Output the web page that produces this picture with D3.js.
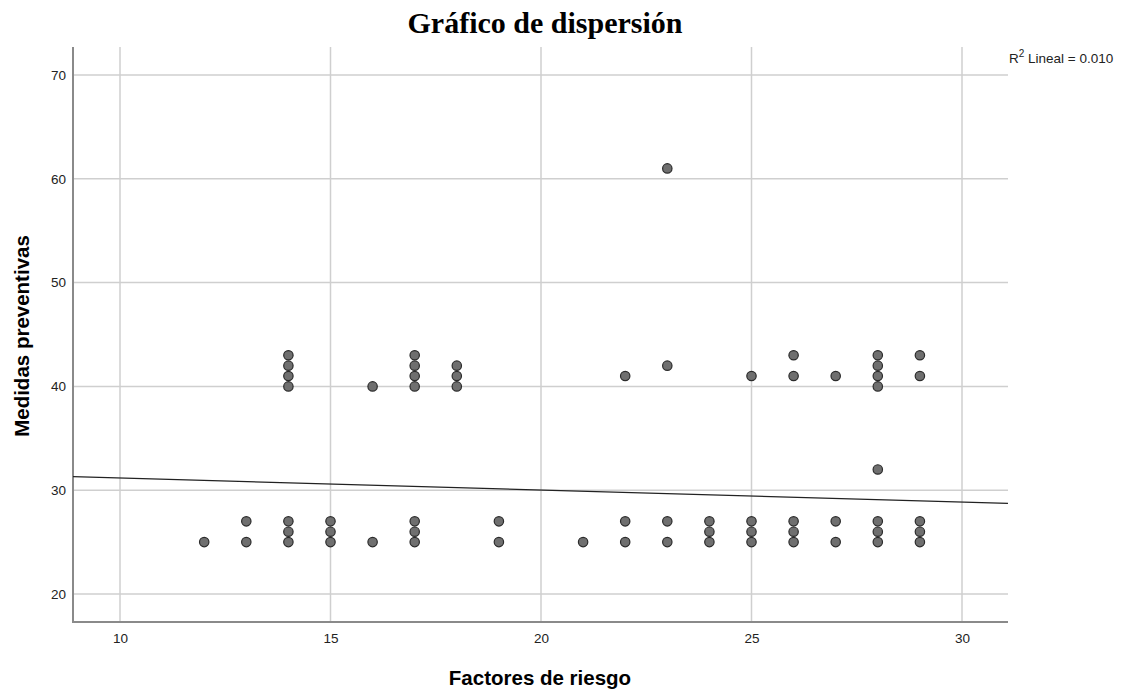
<!DOCTYPE html>
<html lang="es">
<head>
<meta charset="utf-8">
<title>Gráfico de dispersión</title>
<script src="https://cdn.jsdelivr.net/npm/d3@7"></script>
<style>
  html, body { margin: 0; padding: 0; background: #fff; }
  svg { display: block; font-family: "Liberation Sans", Arial, sans-serif; }
  .grid line { stroke: #cfcfcf; stroke-width: 1.5; }
  .axis text { font-size: 13.5px; fill: #222; }
  .axis path, .axis line { display: none; }
</style>
</head>
<body>
<script>
// Factores de riesgo (x) y Medidas preventivas (y)
const factores = [
  12,
  13, 13,
  14, 14, 14, 14, 14, 14, 14,
  15, 15, 15,
  16, 16,
  17, 17, 17, 17, 17, 17, 17,
  18, 18, 18,
  19, 19,
  21,
  22, 22, 22,
  23, 23, 23, 23,
  24, 24, 24,
  25, 25, 25, 25,
  26, 26, 26, 26, 26,
  27, 27, 27,
  28, 28, 28, 28, 28, 28, 28, 28,
  29, 29, 29, 29, 29
];
const medidas = [
  25,
  25, 27,
  25, 26, 27, 40, 41, 42, 43,
  25, 26, 27,
  25, 40,
  25, 26, 27, 40, 41, 42, 43,
  40, 41, 42,
  25, 27,
  25,
  25, 27, 41,
  25, 27, 42, 61,
  25, 26, 27,
  25, 26, 27, 41,
  25, 26, 27, 41, 43,
  25, 27, 41,
  25, 26, 27, 32, 40, 41, 42, 43,
  25, 26, 27, 41, 43
];
const xTicks = [10, 15, 20, 25, 30];
const yTicks = [20, 30, 40, 50, 60, 70];
// recta de ajuste lineal
const fitIntercept = 32.34;
const fitSlope = -0.116;
const r2Label = "0.010";

const w = 1131, h = 696;
const plotLeft = 73, plotRight = 1008, plotTop = 47, plotBottom = 622;

const svg = d3.select("body").append("svg")
  .attr("width", w)
  .attr("height", h);

const xScale = d3.scaleLinear().domain([10, 30]).range([120, 962]);
const yScale = d3.scaleLinear().domain([20, 70]).range([594, 75]);
const xMin = xScale.invert(plotLeft), xMax = xScale.invert(plotRight);

// rejilla
svg.append("g").attr("class", "grid")
  .selectAll("line").data(xTicks).enter().append("line")
  .attr("x1", d => xScale(d)).attr("x2", d => xScale(d))
  .attr("y1", plotTop).attr("y2", plotBottom);
svg.append("g").attr("class", "grid")
  .selectAll("line").data(yTicks).enter().append("line")
  .attr("x1", plotLeft).attr("x2", plotRight)
  .attr("y1", d => yScale(d)).attr("y2", d => yScale(d));

// ejes
svg.append("g").attr("class", "axis")
  .attr("transform", "translate(0," + plotBottom + ")")
  .call(d3.axisBottom(xScale).tickValues(xTicks).tickSize(0).tickPadding(11));
svg.append("g").attr("class", "axis")
  .attr("transform", "translate(" + plotLeft + ",0)")
  .call(d3.axisLeft(yScale).tickValues(yTicks).tickSize(0).tickPadding(7));

svg.append("line")
  .attr("x1", plotLeft).attr("x2", plotLeft).attr("y1", plotTop).attr("y2", plotBottom + 1)
  .attr("stroke", "#8a8a8a").attr("stroke-width", 2);
svg.append("line")
  .attr("x1", plotLeft).attr("x2", plotRight).attr("y1", plotBottom).attr("y2", plotBottom)
  .attr("stroke", "#8a8a8a").attr("stroke-width", 2);

// linea de ajuste
svg.append("line")
  .attr("x1", xScale(xMin)).attr("y1", yScale(fitIntercept + fitSlope * xMin))
  .attr("x2", xScale(xMax)).attr("y2", yScale(fitIntercept + fitSlope * xMax))
  .attr("stroke", "#222").attr("stroke-width", 1.2);

// puntos
svg.append("g").selectAll("circle")
  .data(factores.map((f, i) => ({x: f, y: medidas[i]})))
  .enter().append("circle")
  .attr("cx", d => xScale(d.x))
  .attr("cy", d => yScale(d.y))
  .attr("r", 4.7)
  .attr("fill", "#6f6f6f")
  .attr("stroke", "#2b2b2b")
  .attr("stroke-width", 1.2);

// textos
svg.append("text")
  .attr("x", 545).attr("y", 33)
  .attr("text-anchor", "middle")
  .style("font-family", "'Liberation Serif', 'Times New Roman', serif")
  .style("font-weight", "bold")
  .style("font-size", "30px")
  .text("Gráfico de dispersión");

const r2 = svg.append("text")
  .attr("x", 1009).attr("y", 63)
  .style("font-size", "13.5px").attr("fill", "#222");
r2.append("tspan").text("R");
r2.append("tspan").attr("dy", -6).style("font-size", "10px").text("2");
r2.append("tspan").attr("dy", 6).text(" Lineal = " + r2Label);

svg.append("text")
  .attr("x", 540).attr("y", 685)
  .attr("text-anchor", "middle")
  .style("font-weight", "bold").style("font-size", "20.5px")
  .text("Factores de riesgo");

svg.append("text")
  .attr("transform", "translate(29,336) rotate(-90)")
  .attr("text-anchor", "middle")
  .style("font-weight", "bold").style("font-size", "20.5px")
  .text("Medidas preventivas");
</script>
</body>
</html>
